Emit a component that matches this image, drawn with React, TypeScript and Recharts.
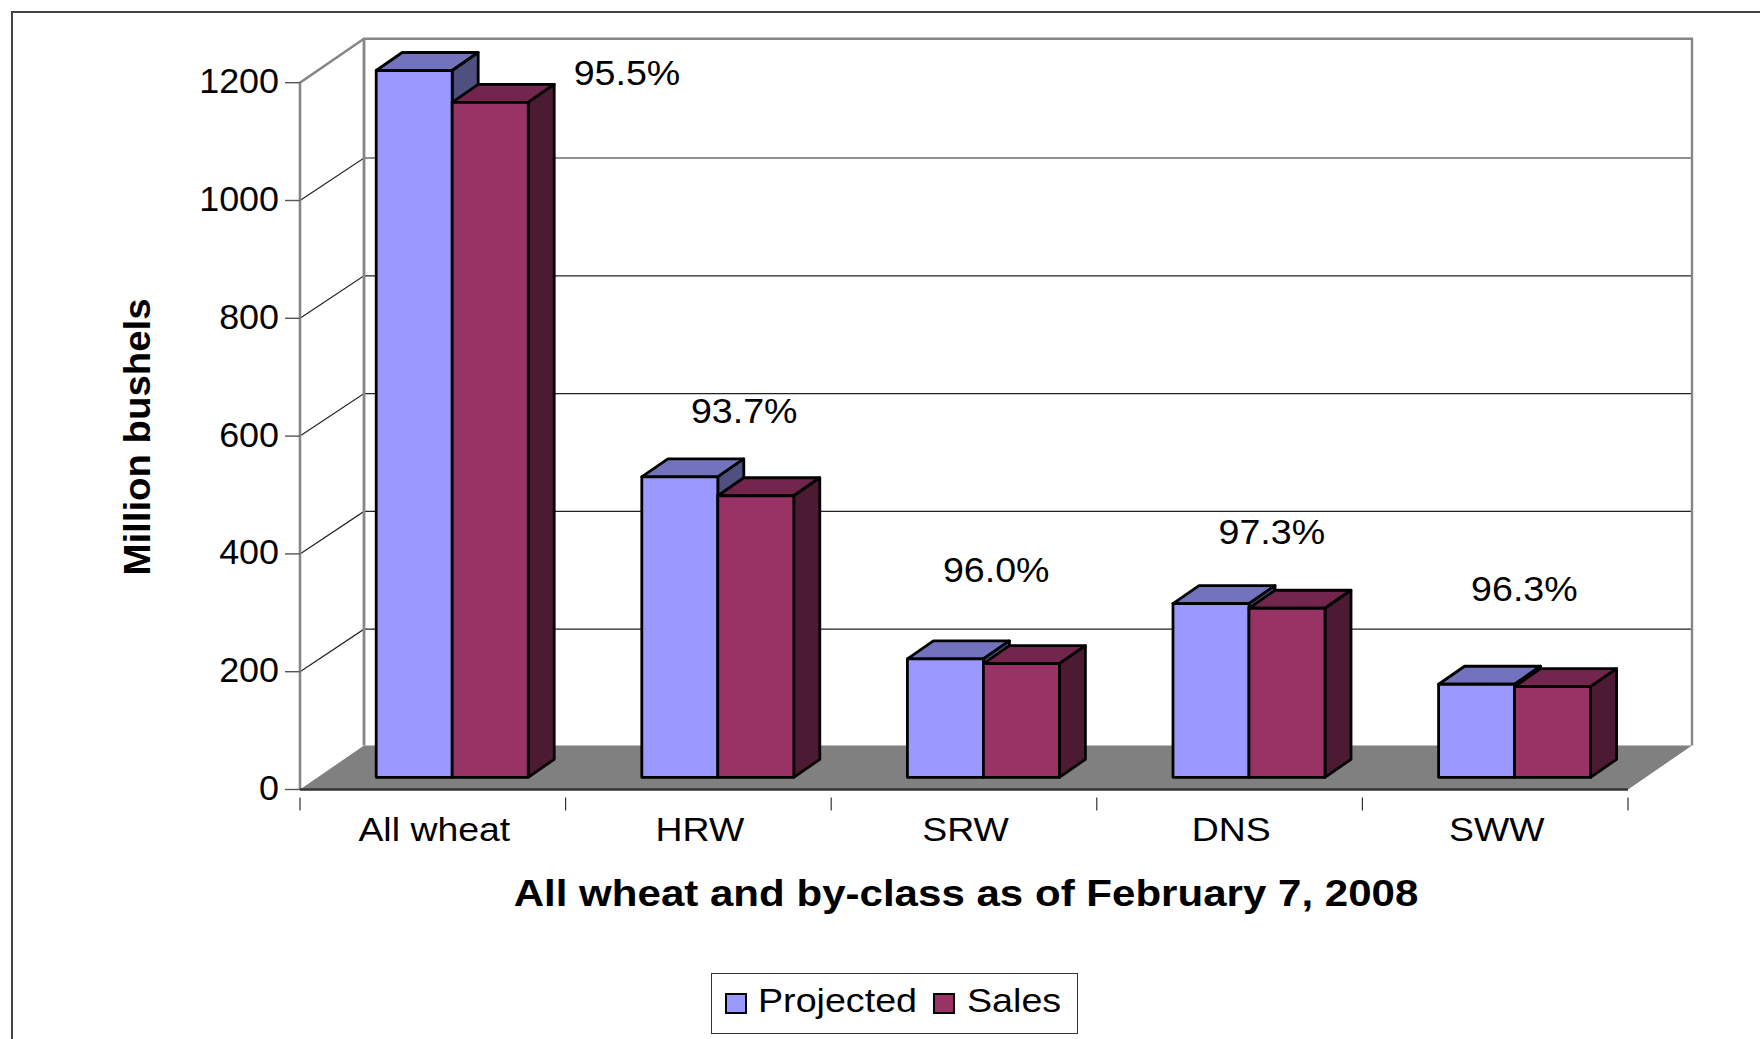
import React from "react";
import { BarChart, Bar, XAxis, YAxis, CartesianGrid, ReferenceArea, LabelList, Legend } from "recharts";

const categories = ["All wheat", "HRW", "SRW", "DNS", "SWW"];
const projected = [1200, 510, 201, 295, 158];
const sales = [1146, 478, 193, 287, 154];
const shares = ["95.5%", "93.7%", "96.0%", "97.3%", "96.3%"];
const yTicks = [0, 200, 400, 600, 800, 1000, 1200];
const seriesNames = ["Projected", "Sales"];

const rows = categories.map((c, i) => ({ name: c, Projected: projected[i], Sales: sales[i], share: shares[i] }));

const FONT = "'Liberation Sans', Arial, sans-serif";
const W = 1760, H = 1039;
const WALL_DX = 64, WALL_DY = 44, GRID_DY = 42.5;
const BAR_SHIFT_X = 19.2, BAR_SHIFT_Y = 12.2;
const BAR_DX = 26, BAR_DY = 18;
const BAND = 1328 / 5;
const labelNudge = [
  [194, -30], [45.6, -85], [32, -94], [42, -76.5], [29, -98],
];

const colors: Record<string, string[]> = {
  Projected: ["#9999FF", "#7373BD", "#4F4F80"],
  Sales: ["#993366", "#73264D", "#4D1A33"],
};

function Bar3D(props: any) {
  const { x, y, width, height, tone } = props;
  const [front, top, side] = colors[tone];
  const l = x + BAR_SHIFT_X, t = y - BAR_SHIFT_Y, r = l + width, b = t + height;
  const s = { stroke: "#000", strokeWidth: 2.8, strokeLinejoin: "round" as const };
  return (
    <g>
      <polygon points={`${l},${t} ${r},${t} ${r + BAR_DX},${t - BAR_DY} ${l + BAR_DX},${t - BAR_DY}`} fill={top} {...s} />
      <polygon points={`${r},${t} ${r + BAR_DX},${t - BAR_DY} ${r + BAR_DX},${b - BAR_DY} ${r},${b}`} fill={side} {...s} />
      <rect x={l} y={t} width={width} height={height} fill={front} {...s} />
    </g>
  );
}

function Room(props: any) {
  const { x, y, width, height } = props;
  const b = y + height;
  const bx = x + WALL_DX, by = y - WALL_DY;
  const gray = "#868686";
  return (
    <g>
      <polygon points={`${x},${b} ${x + width},${b} ${x + width + WALL_DX},${b - WALL_DY} ${bx},${b - WALL_DY}`} fill="#808080" />
      <polyline points={`${x},${b} ${x},${y} ${bx},${by} ${bx + width},${by} ${bx + width},${b - WALL_DY}`} fill="none" stroke={gray} strokeWidth={2.4} />
      <line x1={bx} y1={by} x2={bx} y2={b - WALL_DY} stroke={gray} strokeWidth={2.8} />
    </g>
  );
}

function gridLine(props: any) {
  const { x1, x2, y1, index } = props;
  if (y1 > 780 || y1 < 100) return <g key={`g${index}`} />;
  return (
    <polyline
      key={`g${index}`}
      points={`${x1},${y1} ${x1 + WALL_DX},${y1 - GRID_DY} ${x2 + WALL_DX},${y1 - GRID_DY}`}
      fill="none"
      stroke="#222"
      strokeWidth={1.2}
    />
  );
}

function Stretched({ x, y, sx, children, ...rest }: any) {
  return (
    <text transform={`translate(${x} ${y}) scale(${sx} 1)`} fontFamily={FONT} fill="#000" textAnchor="middle" {...rest}>
      {children}
    </text>
  );
}

function XTick(props: any) {
  const { x, y, payload, index } = props;
  return (
    <g>
      <line x1={x - BAND / 2} y1={y} x2={x - BAND / 2} y2={y + 13} stroke="#333" strokeWidth={1.2} />
      {index === categories.length - 1 && (
        <line x1={x + BAND / 2} y1={y} x2={x + BAND / 2} y2={y + 13} stroke="#333" strokeWidth={1.2} />
      )}
      <Stretched x={x + 1.5} y={y + 43} sx={1.1} fontSize={34}>
        {payload.value}
      </Stretched>
    </g>
  );
}

function YTick(props: any) {
  const { x, y, payload } = props;
  return (
    <text transform={`translate(${x} ${y + 10.5}) scale(1.025 1)`} textAnchor="end" fontFamily={FONT} fontSize={35} fill="#000">
      {payload.value}
    </text>
  );
}

function ShareLabel(props: any) {
  const { x, y, value, index } = props;
  const [dx, dy] = labelNudge[index];
  return (
    <Stretched x={x + dx} y={y + dy} sx={1.09} fontSize={34.5}>
      {value}
    </Stretched>
  );
}

function LegendBox() {
  return (
    <div style={{ boxSizing: "border-box", width: 367, height: 61, border: "1.5px solid #333", background: "#fff", position: "relative", fontFamily: FONT, fontSize: 34 }}>
      {seriesNames.map((n, i) => (
        <React.Fragment key={n}>
          <div style={{ position: "absolute", boxSizing: "border-box", left: i === 0 ? 13 : 221, top: 19, width: 22, height: 21, background: colors[n][0], border: "2.5px solid #000" }} />
          <div style={{ position: "absolute", left: i === 0 ? 46.5 : 255.5, top: 6, lineHeight: "40px", color: "#000", transform: "scaleX(1.107)", transformOrigin: "left center" }}>{n}</div>
        </React.Fragment>
      ))}
    </div>
  );
}

export default function App() {
  return (
    <div style={{ position: "absolute", left: 0, top: 0, width: W, height: H, overflow: "hidden", background: "#fff" }}>
      <div style={{ position: "absolute", left: 11, top: 10.5, right: 0, height: 2, background: "#444" }} />
      <div style={{ position: "absolute", left: 11, top: 10.5, bottom: 0, width: 1.6, background: "#444" }} />
      <div style={{ position: "absolute", left: 0, top: 0 }}>
        <BarChart
          width={W}
          height={H}
          data={rows}
          margin={{ top: 82.7, right: 132, bottom: 189.5, left: 240 }}
          barSize={76}
          barGap={0}
          style={{ background: "transparent" }}
        >
          <ReferenceArea y1={0} y2={1200} ifOverflow="visible" shape={<Room />} />
          <CartesianGrid vertical={false} horizontal={gridLine as any} />
          <YAxis
            type="number"
            domain={[0, 1200]}
            ticks={yTicks}
            width={60}
            tickSize={15}
            tickMargin={6}
            interval={0}
            stroke="#868686"
            axisLine={{ stroke: "#868686", strokeWidth: 2.2 }}
            tickLine={{ stroke: "#555", strokeWidth: 1.4 }}
            tick={<YTick />}
            label={{
              content: () => (
                <text transform="translate(150 437) rotate(-90) scale(1.066 1)" textAnchor="middle" fontFamily={FONT} fontWeight="bold" fontSize={36} fill="#000">
                  Million bushels
                </text>
              ),
            }}
          />
          <XAxis
            dataKey="name"
            height={60}
            interval={0}
            tickLine={false}
            axisLine={{ stroke: "#333", strokeWidth: 2.4 }}
            tick={<XTick />}
            label={{
              content: () => (
                <Stretched x={966} y={905.5} sx={1.137} fontWeight="bold" fontSize={37}>
                  All wheat and by-class as of February 7, 2008
                </Stretched>
              ),
            }}
          />
          <Bar dataKey="Projected" isAnimationActive={false} shape={<Bar3D tone="Projected" />} />
          <Bar dataKey="Sales" isAnimationActive={false} shape={<Bar3D tone="Sales" />}>
            <LabelList dataKey="share" content={<ShareLabel />} />
          </Bar>
          <Legend
            verticalAlign="middle"
            align="center"
            layout="horizontal"
            wrapperStyle={{ left: 710.5, top: 973, width: 367, height: 61 }}
            content={<LegendBox />}
          />
        </BarChart>
      </div>
    </div>
  );
}
